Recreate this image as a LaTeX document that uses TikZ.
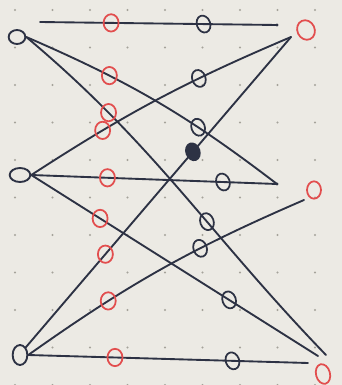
\documentclass[tikz,border=0pt]{standalone}
\usepackage{xcolor}
\usepackage{tikz}
\usetikzlibrary{shapes.geometric, calc}

\definecolor{paper}{RGB}{236,234,228}
\definecolor{ink}{RGB}{45,50,68}
\definecolor{pen}{RGB}{226,78,78}
\definecolor{dotc}{RGB}{165,162,154}

\begin{document}
\begin{tikzpicture}[x=0.03cm, y=-0.03cm,
  wire/.style  = {draw=ink, line width=1.6pt, line cap=round},
  lnode/.style = {ellipse, draw=ink, line width=1.6pt, inner sep=0pt,
                  minimum width=0.5cm, minimum height=0.42cm},
  rnode/.style = {ellipse, draw=pen, line width=1.5pt, inner sep=0pt,
                  minimum width=0.52cm, minimum height=0.6cm},
  rmk/.style   = {ellipse, draw=pen, line width=1.5pt, inner sep=0pt,
                  minimum width=0.45cm, minimum height=0.52cm},
  bmk/.style   = {ellipse, draw=ink, line width=1.5pt, inner sep=0pt,
                  minimum width=0.4cm, minimum height=0.52cm, rotate=20},
]
  \fill[paper] (0,0) rectangle (342,385);
  \useasboundingbox (0,0) rectangle (342,385);
  \foreach \i in {0,...,8}
    \foreach \j in {0,...,10}
      \fill[dotc] (15+37.5*\i, 10+37.5*\j) circle (1pt);

  % left ends
  \node[lnode] (l1) at (17,37) {};
  \node[lnode, minimum width=0.62cm] (l2) at (20,175) {};
  \node[lnode, minimum width=0.44cm, minimum height=0.6cm] (l3) at (20,355) {};
  % right ends
  \node[rnode, rotate=25] (r1) at (306,30) {};
  \node[rnode, minimum width=0.42cm, minimum height=0.52cm] (r2) at (314,190) {};
  \node[rnode, minimum width=0.42cm, minimum height=0.6cm, rotate=15] (r3) at (323,374) {};

  \coordinate (a1)  at (40,22);
  \coordinate (e11) at (277,25);
  \coordinate (e12) at (277,184);
  \coordinate (e13) at (326,355);
  \coordinate (e21) at (291,37);
  \coordinate (e23) at (318,356);
  \coordinate (e32) at (304,200);
  \coordinate (e33) at (308,363);

  \draw[wire] (a1) -- node[rmk, pos=0.30] {} node[bmk, pos=0.69] {} (e11);
  \draw[wire] (l1.east) to[bend left=7] node[rmk, pos=0.30] {} node[bmk, pos=0.68] {} (e12);
  \draw[wire] (l1.east) to[out=-40, in=134] node[rmk, pos=0.24] {} node[bmk, pos=0.60] {} (e13);

  \draw[wire] (l2.east) to[bend left=5] node[rmk, pos=0.27] {} node[bmk, pos=0.67] {} (e21);
  \draw[wire] (l2.east) -- node[rmk, pos=0.31] {} node[bmk, pos=0.78] {} (e12);
  \draw[wire] (l2.east) -- node[rmk, pos=0.24] {} node[bmk, pos=0.69] {} (e23);

  \draw[wire] (l3.north east) -- node[rmk, pos=0.30] {} node[bmk, fill=ink, pos=0.63] {} (e21);
  \draw[wire] (l3.east) to[bend left=6] node[rmk, pos=0.29] {} node[bmk, pos=0.65] {} (e32);
  \draw[wire] (l3.east) -- node[rmk, pos=0.31] {} node[bmk, pos=0.73] {} (e33);

  \fill[ink] (e11) circle (1.4pt);
  \fill[ink] (e12) circle (1.4pt);
\end{tikzpicture}
\end{document}
